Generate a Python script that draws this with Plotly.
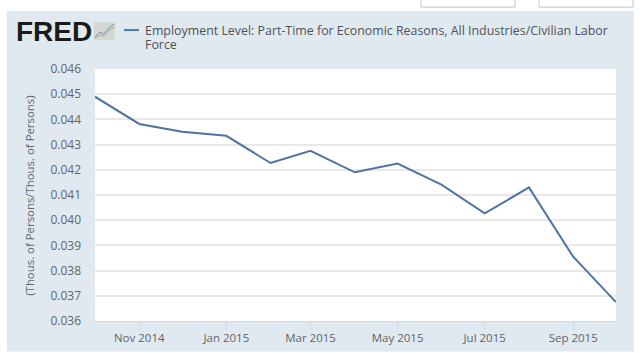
import plotly.graph_objects as go

dates = ["2014-10-01", "2014-11-01", "2014-12-01", "2015-01-01", "2015-02-01", "2015-03-01", "2015-04-01",
         "2015-05-01", "2015-06-01", "2015-07-01", "2015-08-01", "2015-09-01", "2015-10-01"]
values = [0.0449, 0.04382, 0.04351, 0.04335, 0.04227, 0.04275, 0.0419,
          0.04225, 0.0414, 0.04027, 0.0413, 0.03855, 0.03675]
series_lines = ["Employment Level: Part-Time for Economic Reasons, All Industries/Civilian Labor", "Force"]
y_title = "(Thous. of Persons/Thous. of Persons)"
y_ticks = [0.036, 0.037, 0.038, 0.039, 0.040, 0.041, 0.042, 0.043, 0.044, 0.045, 0.046]
x_ticks = ["2014-11-01", "2015-01-01", "2015-03-01", "2015-05-01", "2015-07-01", "2015-09-01"]
x_labels = ["Nov 2014", "Jan 2015", "Mar 2015", "May 2015", "Jul 2015", "Sep 2015"]

W, H = 640, 353
L, R, T, B = 95, 616, 69, 321.5
FONT = "Open Sans"
TXT = "#5f6468"


def px(x):
    return (x - L) / (R - L)


def py(y):
    return (B - y) / (B - T)


def rect(x0, y0, x1, y1, **kw):
    return dict(type="rect", xref="paper", yref="paper", x0=px(x0), x1=px(x1), y0=py(y0), y1=py(y1), **kw)


def poly(pts, color, width=1):
    d = "M" + " L".join(f"{px(x):.5f},{py(y):.5f}" for x, y in pts)
    return dict(type="path", xref="paper", yref="paper", path=d, line=dict(color=color, width=width), layer="above")


shapes = [
    rect(7, 11, 634, 352, fillcolor="#e1e9f0", line_width=0, layer="below"),
    rect(95, 69, 616, 321.5, fillcolor="#ffffff", line_width=0, layer="below"),
    rect(421, -4, 515, 7, fillcolor="#ffffff", line=dict(color="#c4c4c4", width=1), layer="below"),
    rect(539, -4, 633, 7, fillcolor="#ffffff", line=dict(color="#c4c4c4", width=1), layer="below"),
    # FRED logo icon
    rect(94, 22, 115, 40, fillcolor="#d3d8d6", line_width=0, layer="above"),
    poly([(95, 37), (100, 32), (104, 34), (109, 28), (114, 24)], "#6f8fa8", 1),
    poly([(95, 38), (100, 35), (104, 36), (109, 31), (114, 27)], "#9db56f", 1),
    # legend key
    poly([(124, 30), (139, 30)], "#4e79a7", 2),
]

fig = go.Figure(
    go.Scatter(x=dates, y=values, mode="lines", line=dict(color="#4f74a3", width=2), showlegend=False)
)
fig.update_layout(
    width=W,
    height=H,
    margin=dict(l=L, r=W - R, t=T, b=H - B, pad=0, autoexpand=False),
    paper_bgcolor="#ffffff",
    plot_bgcolor="rgba(0,0,0,0)",
    font=dict(family=FONT, size=11, color=TXT),
    shapes=shapes,
    xaxis=dict(
        type="date",
        automargin=False,
        range=[dates[0], dates[-1]],
        tickvals=x_ticks,
        ticktext=x_labels,
        ticks="outside",
        ticklen=8,
        tickcolor="#cfd8e0",
        tickwidth=1,
        showgrid=False,
        showline=True,
        linecolor="#cfd8e0",
        linewidth=1,
        zeroline=False,
        ticklabelstandoff=-2,
        tickfont=dict(size=11.5, color=TXT),
    ),
    yaxis=dict(
        automargin=False,
        range=[0.036, 0.046],
        tickvals=y_ticks,
        tickformat=".3f",
        showgrid=True,
        gridcolor="#e8e8e8",
        gridwidth=1.5,
        zeroline=False,
        showline=False,
        ticks="",
        ticklabelstandoff=13,
        tickfont=dict(size=12, color=TXT),
    ),
    annotations=[
        dict(text=series_lines[0], xref="paper", yref="paper", x=px(143), y=py(30), xanchor="left", yanchor="middle",
             align="left", showarrow=False, font=dict(family=FONT, size=12.4, color="#4d5256")),
        dict(text=series_lines[1], xref="paper", yref="paper", x=px(143), y=py(44.5), xanchor="left", yanchor="middle",
             align="left", showarrow=False, font=dict(family=FONT, size=12.4, color="#4d5256")),
        dict(text="<b>FRED</b>", xref="paper", yref="paper", x=px(14), y=py(31), xanchor="left", yanchor="middle",
             showarrow=False, font=dict(family="Liberation Sans", size=28, color="#1a1a1a")),
        dict(text=y_title, xref="paper", yref="paper", x=px(30), y=py(196), xanchor="center", yanchor="middle",
             textangle=-90, showarrow=False, font=dict(family=FONT, size=11.4, color=TXT)),
    ],
)

fig.write_html(
    "out.html",
    config={"displayModeBar": False},
    post_script="document.body.style.margin='0';document.documentElement.style.overflow='hidden';",
)
